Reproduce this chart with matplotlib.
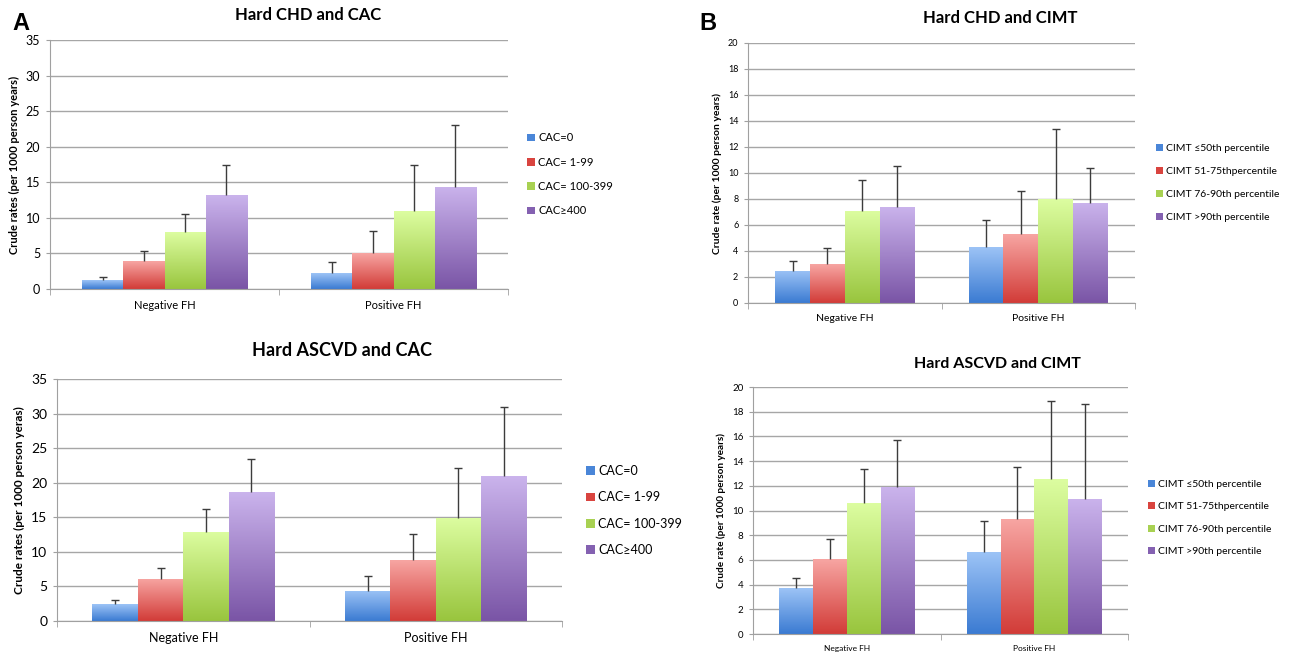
import numpy as np
import matplotlib
matplotlib.use("Agg")
import matplotlib.pyplot as plt
from matplotlib.colors import LinearSegmentedColormap
from matplotlib.patches import Patch

plt.rcParams['font.family'] = ['Lato', 'DejaVu Sans']

# Data
groups = ['Negative FH', 'Positive FH']
cac_labels = ['CAC=0', 'CAC= 1-99', 'CAC= 100-399', 'CAC≥400']
cimt_labels = ['CIMT ≤50th percentile', 'CIMT 51-75thpercentile',
               'CIMT 76-90th percentile', 'CIMT >90th percentile']

# Hard CHD and CAC: rows = categories, cols = (Negative FH, Positive FH)
chd_cac = [[1.2, 2.2], [3.9, 5.0], [8.0, 10.9], [13.2, 14.4]]
chd_cac_upper = [[1.7, 3.8], [5.3, 8.2], [10.6, 17.4], [17.4, 23.0]]

ascvd_cac = [[2.4, 4.4], [6.1, 8.8], [12.9, 14.9], [18.6, 20.9]]
ascvd_cac_upper = [[3.1, 6.5], [7.7, 12.6], [16.2, 22.2], [23.5, 30.9]]

chd_cimt = [[2.5, 4.3], [3.0, 5.3], [7.1, 8.0], [7.4, 7.7]]
chd_cimt_upper = [[3.25, 6.4], [4.2, 8.6], [9.5, 13.35], [10.55, 10.4]]

ascvd_cimt = [[3.7, 6.6], [6.05, 9.3], [10.6, 12.55], [11.9, 10.95]]
ascvd_cimt_upper = [[4.55, 9.15], [7.7, 13.5], [13.4, 18.9], [15.7, 18.6]]

# light top, dark bottom, legend swatch
grad_top = ['#9cc3f6', '#f7a5a2', '#dcfda0', '#cab3ec']
grad_bot = ['#3b7bd2', '#d23c38', '#99c53e', '#7a55a6']
swatch = ['#4a86d8', '#d9443f', '#a8d152', '#8461b1']


def draw_panel(rect, vals, upper, labels, ymax, ystep, title, title_xy, ylabel,
               fs_tick, fs_cat, fs_ylab, fs_title, fs_leg, leg_xy, leg_space):
    ax = fig.add_axes(rect)
    x = np.arange(len(groups))
    width = 0.18
    offsets = [-0.27, -0.09, 0.09, 0.27]
    for i in range(len(labels)):
        v = np.array(vals[i])
        up = np.array(upper[i])
        bars = ax.bar(x + offsets[i], v, width, color='none', edgecolor='none', zorder=2)
        cmap = LinearSegmentedColormap.from_list('g', [grad_bot[i], grad_top[i]])
        for b in bars:
            x0, y0 = b.get_x(), b.get_y()
            x1, y1 = x0 + b.get_width(), y0 + b.get_height()
            img = ax.imshow(np.linspace(0, 1, 100).reshape(-1, 1), cmap=cmap,
                            extent=[x0, x1, y0, y1], origin='lower',
                            aspect='auto', zorder=2)
            img.set_clip_path(b)
        # upper error only, cap at the top
        ax.vlines(x + offsets[i], v, up, color='#3c3c3c', lw=1, zorder=3)
        ax.plot(x + offsets[i], up, ls='none', marker='_', ms=6, mew=1,
                color='#3c3c3c', zorder=3)

    ax.set_xlim(-0.5, 1.5)
    ax.set_ylim(0, ymax)
    ax.set_yticks(np.arange(0, ymax + 0.01, ystep))
    ax.set_xticks(x)
    ax.set_xticklabels(groups, fontsize=fs_cat)
    ax.set_xticks([-0.5, 0.5, 1.5], minor=True)
    ax.tick_params(axis='x', which='major', length=0, pad=8)
    ax.tick_params(axis='x', which='minor', length=4, color='#a0a0a0')
    ax.tick_params(axis='y', length=3, color='#a0a0a0', labelsize=fs_tick, pad=4)
    ax.yaxis.grid(True, color='#a6a6a6', lw=1)
    ax.set_axisbelow(True)
    for s in ['top', 'right']:
        ax.spines[s].set_visible(False)
    for s in ['left', 'bottom']:
        ax.spines[s].set_color('#a0a0a0')
    ax.set_ylabel(ylabel, fontsize=fs_ylab, fontweight='bold')

    fig.text(title_xy[0] / 1300, 1 - title_xy[1] / 652, title, fontsize=fs_title,
             fontweight='bold', ha='center', va='center')

    handles = [Patch(facecolor=swatch[i], edgecolor='none') for i in range(len(labels))]
    fig.legend(handles, labels, loc='center left', frameon=False,
               bbox_to_anchor=(leg_xy[0] / 1300, 1 - leg_xy[1] / 652),
               fontsize=fs_leg, handlelength=0.7, handleheight=0.7,
               handletextpad=0.3, labelspacing=leg_space, borderpad=0,
               borderaxespad=0)
    return ax


fig = plt.figure(figsize=(13, 6.52), dpi=100)

draw_panel([50 / 1300, 1 - 289 / 652, 458 / 1300, 249 / 652], chd_cac, chd_cac_upper,
           cac_labels, 35, 5, 'Hard CHD and CAC', (308, 15),
           'Crude rates (per 1000 person years)', 9, 8, 8, 12, 8, (527, 174.5), 1.2)

draw_panel([57 / 1300, 1 - 621 / 652, 505 / 1300, 242 / 652], ascvd_cac, ascvd_cac_upper,
           cac_labels, 35, 5, 'Hard ASCVD and CAC', (342, 351),
           'Crude rates (per 1000 person yeras)', 10, 9, 8.5, 13, 9, (586, 510.5), 1.15)

draw_panel([748 / 1300, 1 - 303 / 652, 387 / 1300, 260 / 652], chd_cimt, chd_cimt_upper,
           cimt_labels, 20, 2, 'Hard CHD and CIMT', (1000, 18),
           'Crude rate (per 1000 person years)', 6.5, 7.5, 7.5, 12, 7.5, (1156, 183), 1.3)

draw_panel([753 / 1300, 1 - 634 / 652, 375 / 1300, 247 / 652], ascvd_cimt, ascvd_cimt_upper,
           cimt_labels, 20, 2, 'Hard ASCVD and CIMT', (997, 364),
           'Crude rate (per 1000 person years)', 7, 6, 7.2, 11.5, 7.5, (1148, 518), 1.25)

fig.text(21 / 1300, 1 - 23 / 652, 'A', fontsize=17, fontweight='bold',
         family='Liberation Sans', ha='center', va='center')
fig.text(708 / 1300, 1 - 23 / 652, 'B', fontsize=17, fontweight='bold',
         family='Liberation Sans', ha='center', va='center')

fig.savefig('out.png', dpi=100)
